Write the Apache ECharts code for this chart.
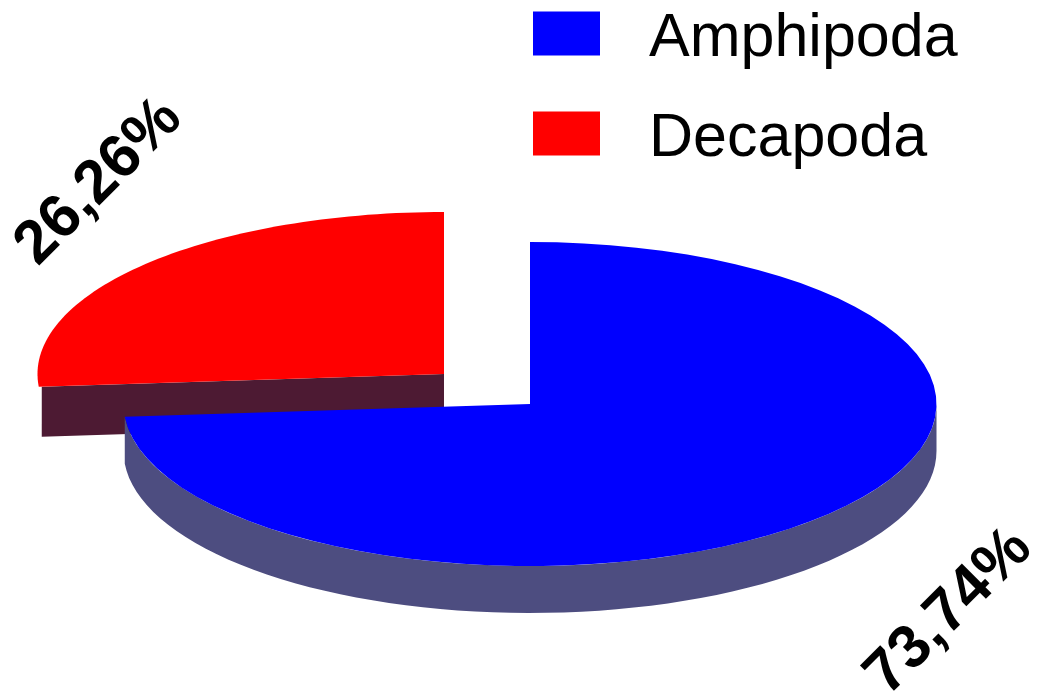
<!DOCTYPE html>
<html>
<head>
<meta charset="utf-8">
<style>html,body{margin:0;padding:0;background:#fff}#c{width:1042px;height:693px}</style>
<script src="https://cdn.jsdelivr.net/npm/echarts@6/dist/echarts.min.js"></script>
</head>
<body>
<div id="c"></div>
<script>
const categories = ['Amphipoda', 'Decapoda'];
const shares = [73.74, 26.26];
const topColors = ['#0000ff', '#ff0000'];
const sideColors = ['#4d4d80', '#4d1a33'];

const total = shares.reduce((a, b) => a + b, 0);
const RX = 406.5, RY = 162, DEPTH = 47, FONT = 'Liberation Sans, Arial, sans-serif';
const layouts = [
  {cx: 530, cy: 404, dir: 1, labelX: 949, labelY: 612},
  {cx: 444, cy: 374, dir: -1, labelX: 99, labelY: 182}
];
const fmt = v => v.toFixed(2).replace('.', ',') + '%';

function rim(l, a) {
  return [l.cx + l.dir * RX * Math.sin(a), l.cy - RY * Math.cos(a)];
}

function slice(idx) {
  return function (params, api) {
    const l = layouts[idx];
    const sweep = api.value(0) / total * Math.PI * 2;
    const top = [[l.cx, l.cy]];
    const steps = 70;
    for (let i = 0; i <= steps; i++) top.push(rim(l, sweep * i / steps));
    const children = [];
    if (idx === 0) {
      const arc = [];
      for (let i = 0; i <= steps; i++) {
        const a = Math.PI / 2 + (sweep - Math.PI / 2) * i / steps;
        arc.push(rim(l, a));
      }
      const side = arc.concat(arc.slice().reverse().map(p => [p[0], p[1] + DEPTH]));
      children.push({type: 'polygon', shape: {points: side}, style: {fill: sideColors[idx]}});
    } else {
      const end = rim(l, sweep);
      const face = [[l.cx, l.cy], [end[0] + 3, end[1]], [end[0] + 3, end[1] + 50], [l.cx, l.cy + 50]];
      children.push({type: 'polygon', shape: {points: face}, style: {fill: sideColors[idx]}});
    }
    children.push({type: 'polygon', shape: {points: top}, style: {fill: topColors[idx]}});
    children.push({
      type: 'text', x: l.labelX, y: l.labelY, rotation: Math.PI / 4,
      style: {text: fmt(api.value(0)), font: 'bold 61px ' + FONT, fill: '#000', align: 'center', verticalAlign: 'middle'}
    });
    return {type: 'group', children};
  };
}

const chart = echarts.init(document.getElementById('c'), null, {renderer: 'canvas'});
chart.setOption({
  animation: false,
  backgroundColor: '#fff',
  legend: {
    data: categories, orient: 'vertical', left: 533, top: 9, padding: 0,
    itemWidth: 67, itemHeight: 44, itemGap: 39, icon: 'rect', selectedMode: false,
    formatter: name => '{t|' + name + '}',
    textStyle: {
      rich: {t: {fontFamily: FONT, fontSize: 61, color: '#000', padding: [12, 0, 0, 44]}}
    }
  },
  series: categories.map((name, i) => ({
    type: 'custom', name, coordinateSystem: 'none', z: 5 - i,
    itemStyle: {color: topColors[i]},
    renderItem: slice(i), data: [[shares[i]]], silent: true
  }))
});
</script>
</body>
</html>
